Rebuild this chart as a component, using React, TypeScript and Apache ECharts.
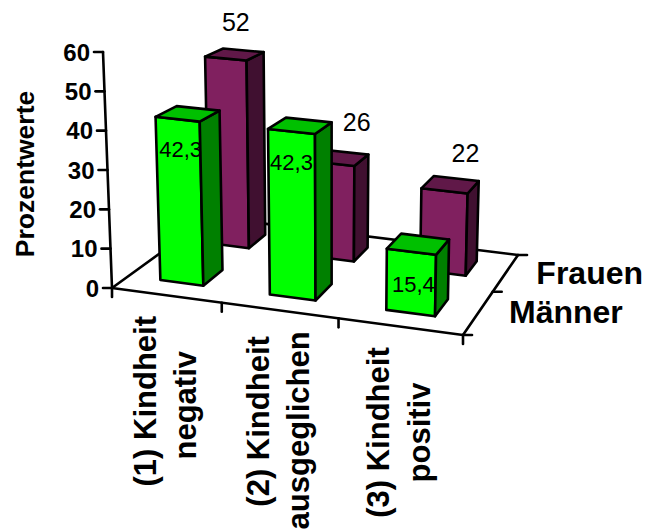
import React, { useEffect, useRef } from "react";
import * as echarts from "echarts";

const categories = ["(1) Kindheit\nnegativ", "(2) Kindheit\nausgeglichen", "(3) Kindheit\npositiv"];
const seriesNames = ["Männer", "Frauen"];
const maenner = [42.3, 42.3, 15.4];
const frauen = [52, 26, 22];
const yTicks = [0, 10, 20, 30, 40, 50, 60];
const yAxisTitle = "Prozentwerte";

// Pixel nudges of the value labels, relative to the top of each bar's front face.
const maennerLabelShift = [[3, 30], [0, 31], [2, 33]];
const frauenLabelShift = [[10, -37], [24, -42], [21, -38]];
// Distance of each category label line below its tick on the front floor edge.
const categoryLineDrop = [[106, 110], [111, 120], [106, 106]];
const categoryLineSide = [-21, 19.5];

const FONT = '"Liberation Sans", Arial, sans-serif';
const STROKE = 2.6;
const MAX_VALUE = 60;
const CAT_COUNT = categories.length;

// Corners of the chart's box on screen: [front/back][left/right], floor and ceiling.
const floorFL = [112, 288];
const floorFR = [463, 335];
const floorBL = [210, 217];
const floorBR = [518, 255];
const topFL = [103, 52];
const topFR = [468, 89];
const topBL = [206.5, 13];
const topBR = [525, 39];

// Perspective foreshortening along the category and depth directions.
const warpU = (u: number) => (u * (1 - 0.09)) / (1 - 0.09 * u);
const warpD = (d: number) => (d * 1.174) / (1 + 0.174 * d);

const mix = (a: number[], b: number[], t: number) => [a[0] + (b[0] - a[0]) * t, a[1] + (b[1] - a[1]) * t];

// Box coordinates in 0..1 to a screen point.
function project(u: number, d: number, h: number) {
  const uu = warpU(u);
  const dd = warpD(d);
  const floor = mix(mix(floorFL, floorFR, uu), mix(floorBL, floorBR, uu), dd);
  const top = mix(mix(topFL, topFR, uu), mix(topBL, topBR, uu), dd);
  return mix(floor, top, h);
}

// Reads the hidden axes' scales and returns box coordinates for data values.
function scales(params: any, api: any) {
  const cs = params.coordSys;
  return {
    u: (cat: number) => (api.coord([cat, 0])[0] - cs.x) / cs.width,
    h: (value: number) => (cs.y + cs.height - api.coord([0, value])[1]) / cs.height,
  };
}

const line = (a: number[], b: number[]) => ({
  type: "line",
  shape: { x1: a[0], y1: a[1], x2: b[0], y2: b[1] },
  style: { stroke: "#000", lineWidth: STROKE, lineCap: "round" },
});

const label = (text: string, x: number, y: number, style: any, rotation = 0) => ({
  type: "text",
  x,
  y,
  rotation,
  style: { text, fontFamily: FONT, fill: "#000", ...style },
});

function renderFrame(params: any, api: any) {
  const s = scales(params, api);
  const children: any[] = [];
  const fl = project(0, 0, 0);
  const fr = project(1, 0, 0);
  const bl = project(0, 1, 0);
  const br = project(1, 1, 0);
  children.push(line(fl, fr), line(fr, br), line(br, bl), line(bl, fl), line(fl, project(0, 0, 1)));

  yTicks.forEach((t) => {
    const p = project(0, 0, s.h(t));
    children.push(line([p[0] - 9, p[1]], p));
    children.push(label(String(t), p[0] - 13, p[1], { fontSize: 24, fontWeight: "bold", align: "right", verticalAlign: "middle" }));
  });
  for (let c = 0; c <= CAT_COUNT; c++) {
    const p = project(s.u(c), 0, 0);
    children.push(line(p, [p[0], p[1] + 9]));
  }
  categories.forEach((name, c) => {
    const p = project(s.u(c + 0.5), 0, 0);
    name.split("\n").forEach((text, i) => {
      children.push(
        label(text, p[0] + categoryLineSide[i], p[1] + categoryLineDrop[c][i], { fontSize: 31, fontWeight: "bold", align: "center", verticalAlign: "middle" }, Math.PI / 2),
      );
    });
  });
  [0, 0.5, 1].forEach((d) => {
    const p = project(1, d, 0);
    children.push(line(p, [p[0] + 9, p[1]]));
  });
  seriesNames.forEach((name, row) => {
    const p = project(1, (row + 0.5) / seriesNames.length, 0);
    children.push(label(name, p[0] + 30.5, p[1], { fontSize: 32, fontWeight: "bold", align: "left", verticalAlign: "middle" }));
  });
  children.push(label(yAxisTitle, 25, 174, { fontSize: 26.5, fontWeight: "bold", align: "center", verticalAlign: "middle" }, Math.PI / 2));
  return { type: "group", children };
}

function barRenderer(row: number, faces: { front: string; side: string; top: string }, shift: number[][], fontSize: number) {
  return (params: any, api: any) => {
    const s = scales(params, api);
    const cat = api.value(0);
    const value = api.value(1);
    const u0 = s.u(cat + 0.3);
    const u1 = s.u(cat + 0.7);
    const d0 = (row + 0.3) / seriesNames.length;
    const d1 = (row + 0.7) / seriesNames.length;
    const h = s.h(value);
    const poly = (points: number[][], fill: string) => ({
      type: "polygon",
      shape: { points },
      style: { fill, stroke: "#000", lineWidth: STROKE, lineJoin: "round" },
    });
    const topFront = mix(project(u0, d0, h), project(u1, d0, h), 0.5);
    return {
      type: "group",
      children: [
        poly([project(u0, d0, 0), project(u1, d0, 0), project(u1, d0, h), project(u0, d0, h)], faces.front),
        poly([project(u1, d0, 0), project(u1, d1, 0), project(u1, d1, h), project(u1, d0, h)], faces.side),
        poly([project(u0, d0, h), project(u1, d0, h), project(u1, d1, h), project(u0, d1, h)], faces.top),
        label(String(value).replace(".", ","), topFront[0] + shift[cat][0], topFront[1] + shift[cat][1], { fontSize, align: "center", verticalAlign: "middle" }),
      ],
    };
  };
}

const toRows = (values: number[]) => values.map((v, i) => [i, v]);

export default function App() {
  const ref = useRef<HTMLDivElement>(null);
  useEffect(() => {
    document.body.style.margin = "0";
    const chart = echarts.init(ref.current!, null, { renderer: "svg" });
    chart.setOption({
      animation: false,
      backgroundColor: "#fff",
      grid: { left: 0, right: 0, top: 0, bottom: 0 },
      xAxis: { type: "value", min: 0, max: CAT_COUNT, show: false },
      yAxis: { type: "value", min: 0, max: MAX_VALUE, show: false },
      series: [
        { type: "custom", name: "Achsen", clip: false, silent: true, data: [[0, 0]], renderItem: renderFrame },
        {
          type: "custom",
          name: seriesNames[1],
          clip: false,
          data: toRows(frauen),
          renderItem: barRenderer(1, { front: "#80205F", side: "#401030", top: "#601848" }, frauenLabelShift, 25),
        },
        {
          type: "custom",
          name: seriesNames[0],
          clip: false,
          data: toRows(maenner),
          renderItem: barRenderer(0, { front: "#00FF00", side: "#008000", top: "#00C000" }, maennerLabelShift, 22),
        },
      ],
    });
    return () => chart.dispose();
  }, []);
  return <div ref={ref} style={{ width: 646, height: 530, overflow: "hidden" }} />;
}
